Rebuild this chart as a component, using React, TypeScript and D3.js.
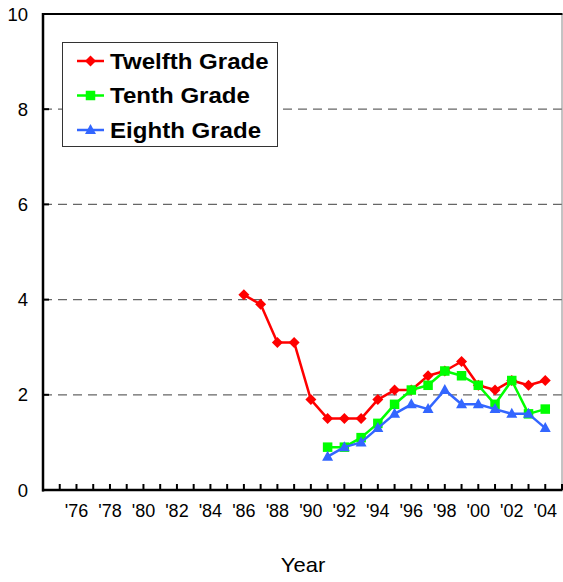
import React from "react";
import * as d3 from "d3";

const twelfthYears = [1986, 1987, 1988, 1989, 1990, 1991, 1992, 1993, 1994, 1995, 1996, 1997, 1998, 1999, 2000, 2001, 2002, 2003, 2004];
const twelfthValues = [4.1, 3.9, 3.1, 3.1, 1.9, 1.5, 1.5, 1.5, 1.9, 2.1, 2.1, 2.4, 2.5, 2.7, 2.2, 2.1, 2.3, 2.2, 2.3];
const lowerYears = [1991, 1992, 1993, 1994, 1995, 1996, 1997, 1998, 1999, 2000, 2001, 2002, 2003, 2004];
const tenthValues = [0.9, 0.9, 1.1, 1.4, 1.8, 2.1, 2.2, 2.5, 2.4, 2.2, 1.8, 2.3, 1.6, 1.7];
const eighthValues = [0.7, 0.9, 1.0, 1.3, 1.6, 1.8, 1.7, 2.1, 1.8, 1.8, 1.7, 1.6, 1.6, 1.3];
const yTicks = [0, 2, 4, 6, 8, 10];
const xLabelYears = [1976, 1978, 1980, 1982, 1984, 1986, 1988, 1990, 1992, 1994, 1996, 1998, 2000, 2002, 2004];
const xTickYears = d3.range(1975, 2006);
const seriesNames = ["Twelfth Grade", "Tenth Grade", "Eighth Grade"];

const W = 563, H = 582;
const L = 43, R = 562, T = 14, B = 490;
const FONT = "'Liberation Sans', Arial, sans-serif";

const x = d3.scaleLinear().domain([1974, 2005]).range([L, R]);
const y = d3.scaleLinear().domain([0, 10]).range([B, T]);

type Kind = "diamond" | "square" | "triangle";
const series: { name: string; years: number[]; values: number[]; color: string; kind: Kind }[] = [
  { name: seriesNames[0], years: twelfthYears, values: twelfthValues, color: "#FF0000", kind: "diamond" },
  { name: seriesNames[1], years: lowerYears, values: tenthValues, color: "#00FF00", kind: "square" },
  { name: seriesNames[2], years: lowerYears, values: eighthValues, color: "#3366FF", kind: "triangle" },
];

function Marker({ kind, cx, cy, color }: { kind: Kind; cx: number; cy: number; color: string }) {
  if (kind === "diamond") {
    const r = 5.5;
    return <path d={`M${cx},${cy - r}L${cx + r},${cy}L${cx},${cy + r}L${cx - r},${cy}Z`} fill={color} />;
  }
  if (kind === "square") {
    const s = 9.5;
    return <rect x={cx - s / 2} y={cy - s / 2} width={s} height={s} fill={color} />;
  }
  const w = 11, h = 10;
  return <path d={`M${cx},${cy - h * 0.6}L${cx + w / 2},${cy + h * 0.4}L${cx - w / 2},${cy + h * 0.4}Z`} fill={color} />;
}

export default function App() {
  const line = d3.line<[number, number]>().x((d) => x(d[0])).y((d) => y(d[1]));
  return (
    <svg width={W} height={H} style={{ position: "absolute", left: 0, top: 0, background: "#fff" }} fontFamily={FONT}>
      {/* grid */}
      {yTicks.filter((t) => t > 0 && t < 10).map((t) => (
        <line key={t} x1={L} x2={R} y1={y(t)} y2={y(t)} stroke="#666" strokeWidth={1.3} strokeDasharray="9,6" />
      ))}
      {/* frame */}
      <line x1={R} x2={R} y1={T} y2={B} stroke="#888" strokeWidth={1} />
      <line x1={L} x2={R + 0.5} y1={T} y2={T} stroke="#000" strokeWidth={2} />
      <line x1={L} x2={L} y1={T - 1} y2={B + 1.5} stroke="#000" strokeWidth={2.5} />
      <line x1={L - 1} x2={R + 0.5} y1={B} y2={B} stroke="#000" strokeWidth={2.5} />
      {/* y ticks */}
      {yTicks.map((t) => (
        <g key={t}>
          <line x1={L} x2={L + 6} y1={y(t)} y2={y(t)} stroke="#000" strokeWidth={2} />
          <text x={28} y={y(t)} dy="0.36em" textAnchor="end" fontSize={18.5}>{t}</text>
        </g>
      ))}
      {/* x ticks */}
      {xTickYears.map((yr) => (
        <line key={yr} x1={x(yr)} x2={x(yr)} y1={B} y2={B - 6} stroke="#000" strokeWidth={2} />
      ))}
      {xLabelYears.map((yr) => (
        <text key={yr} x={x(yr)} y={517} textAnchor="middle" fontSize={18}>{"'" + String(yr).slice(2)}</text>
      ))}
      <text transform="translate(303,572) scale(1.1,1)" textAnchor="middle" fontSize={20}>Year</text>
      {/* series */}
      {series.map((s) => {
        const pts = s.years.map((yr, i) => [yr, s.values[i]] as [number, number]);
        return (
          <g key={s.name}>
            <path d={line(pts) || ""} fill="none" stroke={s.color} strokeWidth={2.5} strokeLinejoin="round" />
            {pts.map((p) => (
              <Marker key={p[0]} kind={s.kind} cx={x(p[0])} cy={y(p[1])} color={s.color} />
            ))}
          </g>
        );
      })}
      {/* legend */}
      <rect x={62.5} y={42.5} width={215} height={104} fill="#fff" stroke="#333" strokeWidth={1} />
      {series.map((s, i) => {
        const cy = 61 + i * 34.5;
        return (
          <g key={s.name}>
            <line x1={77} x2={104} y1={cy} y2={cy} stroke={s.color} strokeWidth={2.5} />
            <Marker kind={s.kind} cx={90.5} cy={cy} color={s.color} />
            <text transform={`translate(110,${cy}) scale(1.12,1)`} dy="0.36em" fontSize={21.5} fontWeight="bold">{s.name}</text>
          </g>
        );
      })}
    </svg>
  );
}
